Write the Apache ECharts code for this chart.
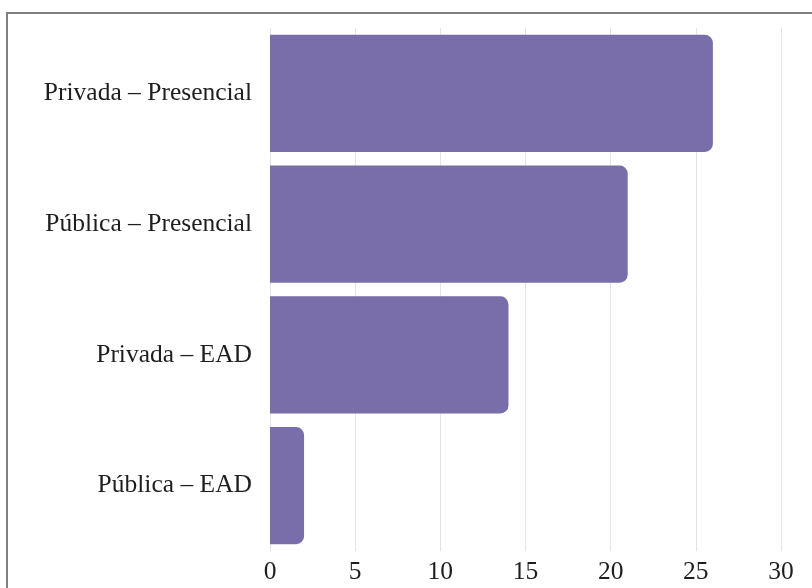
<!DOCTYPE html>
<html>
<head>
<meta charset="utf-8">
<script src="https://cdn.jsdelivr.net/npm/echarts@6/dist/echarts.min.js"></script>
<style>
  html, body { margin: 0; padding: 0; background: #fff; }
  #chart { width: 812px; height: 588px; }
</style>
</head>
<body>
<div id="chart"></div>
<script>
const categories = ["Pública – EAD", "Privada – EAD", "Pública – Presencial", "Privada – Presencial"];
const values = [2, 14, 21, 26];
const xTicks = [0, 5, 10, 15, 20, 25, 30];

const chart = echarts.init(document.getElementById("chart"));
const serif = "'Liberation Serif', 'Times New Roman', serif";

chart.setOption({
  backgroundColor: "#ffffff",
  animation: false,
  graphic: [
    {
      type: "rect",
      shape: { x: 7, y: 13, width: 820, height: 600 },
      style: { fill: "none", stroke: "#808080", lineWidth: 2 },
      silent: true,
    },
  ],
  grid: {
    left: 270,
    right: 31,
    top: 28,
    bottom: 37,
  },
  xAxis: {
    type: "value",
    min: xTicks[0],
    max: xTicks[xTicks.length - 1],
    interval: 5,
    axisLine: { show: false },
    axisTick: { show: false },
    axisLabel: {
      margin: 8,
      fontFamily: serif,
      fontSize: 25.5,
      color: "#1e1e1e",
    },
    splitLine: {
      show: true,
      lineStyle: { color: "#e4e4e4", width: 1 },
    },
  },
  yAxis: {
    type: "category",
    data: categories,
    axisLine: { show: false },
    axisTick: { show: false },
    axisLabel: {
      margin: 18,
      fontFamily: serif,
      fontSize: 25.5,
      color: "#1e1e1e",
    },
  },
  series: [
    {
      type: "bar",
      data: values,
      barCategoryGap: "10.5%",
      itemStyle: {
        color: "#796ea9",
        borderRadius: [0, 8, 8, 0],
      },
    },
  ],
});
</script>
</body>
</html>
